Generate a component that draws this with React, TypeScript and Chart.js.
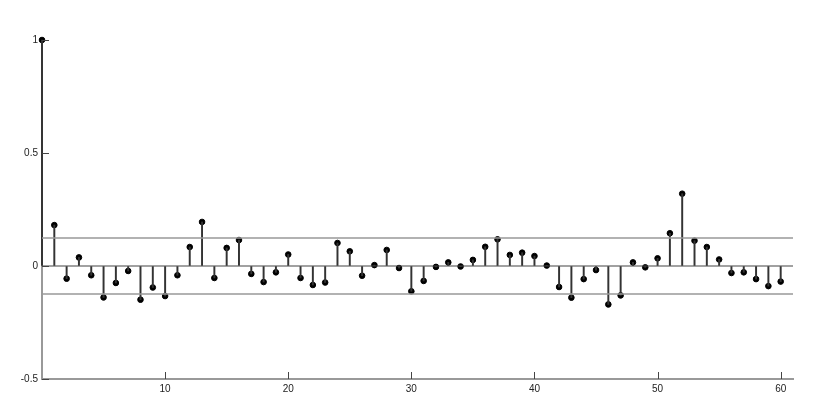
import React, { useEffect, useRef } from "react";
import { Chart, registerables } from "chart.js";

Chart.register(...registerables);

const lags: number[] = Array.from({ length: 61 }, (_, i) => i);
const acfValues: number[] = [
  1.0, 0.181, -0.056, 0.038, -0.041, -0.139, -0.075, -0.022, -0.149, -0.095,
  -0.133, -0.041, 0.084, 0.195, -0.053, 0.08, 0.115, -0.035, -0.071, -0.028,
  0.051, -0.053, -0.084, -0.073, 0.102, 0.065, -0.043, 0.004, 0.071, -0.009,
  -0.112, -0.066, -0.004, 0.016, -0.002, 0.027, 0.085, 0.118, 0.049, 0.059,
  0.044, 0.002, -0.093, -0.14, -0.058, -0.018, -0.17, -0.13, 0.016, -0.006,
  0.034, 0.145, 0.32, 0.112, 0.084, 0.029, -0.031, -0.028, -0.058, -0.089,
  -0.069,
];
const confidence = 0.124;
const xTicks = [10, 20, 30, 40, 50, 60];
const yTicks = [-0.5, 0, 0.5, 1];

const inwardTicks = {
  id: "inwardTicks",
  afterDatasetsDraw(chart: any) {
    const { ctx, chartArea, scales } = chart;
    ctx.save();
    ctx.strokeStyle = "#444";
    ctx.lineWidth = 1;
    for (const v of xTicks) {
      const px = Math.round(scales.x.getPixelForValue(v)) + 0.5;
      ctx.beginPath();
      ctx.moveTo(px, chartArea.bottom);
      ctx.lineTo(px, chartArea.bottom - 7);
      ctx.stroke();
    }
    for (const v of yTicks) {
      const py = Math.round(scales.y.getPixelForValue(v)) + 0.5;
      ctx.beginPath();
      ctx.moveTo(chartArea.left, py);
      ctx.lineTo(chartArea.left + 7, py);
      ctx.stroke();
    }
    ctx.restore();
  },
};

export default function App() {
  const ref = useRef<HTMLCanvasElement | null>(null);
  useEffect(() => {
    if (!ref.current) return;
    const pts = lags.map((x, i) => ({ x, y: acfValues[i] }));
    const chart = new Chart(ref.current, {
      type: "scatter",
      data: {
        datasets: [
          {
            type: "line",
            data: [{ x: 0, y: confidence }, { x: 61, y: confidence }],
            borderColor: "#999",
            borderWidth: 1.5,
            pointRadius: 0,
          } as any,
          {
            type: "line",
            data: [{ x: 0, y: -confidence }, { x: 61, y: -confidence }],
            borderColor: "#999",
            borderWidth: 1.5,
            pointRadius: 0,
          } as any,
          {
            type: "line",
            data: [{ x: 0, y: 0 }, { x: 61, y: 0 }],
            borderColor: "#444",
            borderWidth: 1.2,
            pointRadius: 0,
          } as any,
          {
            type: "bar",
            data: pts,
            backgroundColor: "#333",
            barThickness: 1.3,
            grouped: false,
            clip: false,
          } as any,
          {
            type: "scatter",
            data: pts,
            backgroundColor: "#000",
            borderColor: "#000",
            pointRadius: 2.8,
            clip: false,
          } as any,
        ],
      },
      options: {
        animation: false,
        responsive: false,
        maintainAspectRatio: false,
        layout: { padding: { left: 0, top: 40, right: 37, bottom: 0 } },
        plugins: { legend: { display: false }, tooltip: { enabled: false } },
        scales: {
          x: {
            type: "linear",
            min: 0,
            max: 61,
            offset: false,
            afterFit: (s: any) => {
              s.height = 36;
            },
            afterBuildTicks: (s: any) => {
              s.ticks = xTicks.map((v) => ({ value: v }));
            },
            ticks: {
              color: "#222",
              font: { family: "Liberation Sans", size: 10 },
              padding: 4,
              maxRotation: 0,
            },
            grid: { display: true, drawOnChartArea: false, drawTicks: false },
            border: { display: true, color: "#999", width: 2 },
          },
          y: {
            min: -0.5,
            max: 1,
            afterFit: (s: any) => {
              s.width = 42;
            },
            afterBuildTicks: (s: any) => {
              s.ticks = yTicks.map((v) => ({ value: v }));
            },
            ticks: {
              color: "#222",
              font: { family: "Liberation Sans", size: 10 },
              padding: 4,
              callback: (v: any) => String(v),
            },
            grid: { display: true, drawOnChartArea: false, drawTicks: false },
            border: { display: true, color: "#999", width: 2 },
          },
        },
      },
      plugins: [inwardTicks],
    });
    return () => chart.destroy();
  }, []);
  return (
    <div style={{ position: "absolute", left: 0, top: 0, width: 830, height: 415, background: "#fff" }}>
      <canvas ref={ref} width={830} height={415} style={{ width: 830, height: 415 }} />
    </div>
  );
}
